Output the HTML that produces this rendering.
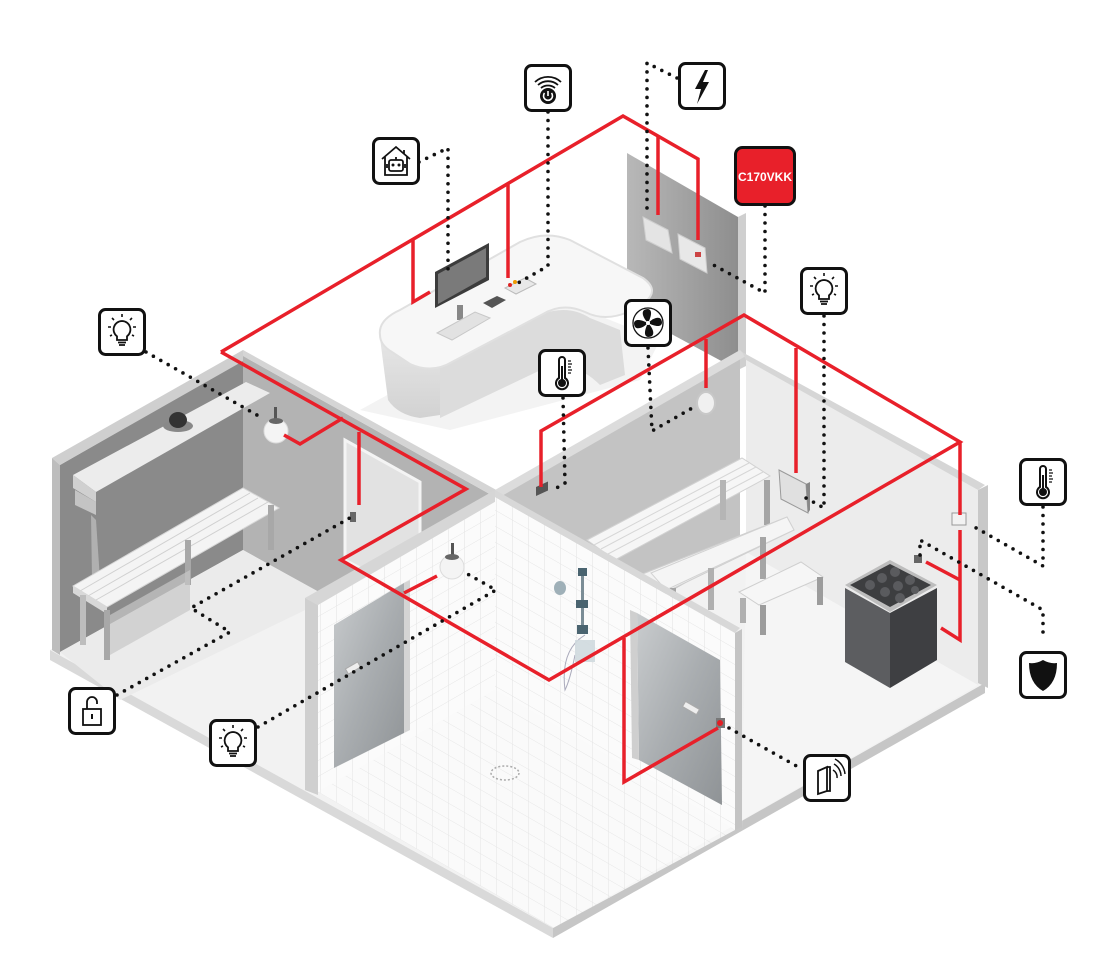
<!DOCTYPE html>
<html><head><meta charset="utf-8"><style>
html,body{margin:0;padding:0;background:#fff}
svg{display:block}
</style></head><body>
<svg width="1120" height="972" viewBox="0 0 1120 972" xmlns="http://www.w3.org/2000/svg" font-family="Liberation Sans, sans-serif">
<defs>
<linearGradient id="glass" x1="0" y1="0" x2="1" y2="1"><stop offset="0" stop-color="#c9ccce"/><stop offset="0.5" stop-color="#a9adb0"/><stop offset="1" stop-color="#8f9396"/></linearGradient>
<linearGradient id="panel" x1="0" y1="0" x2="1" y2="0"><stop offset="0" stop-color="#b8b8b8"/><stop offset="1" stop-color="#8e8e8e"/></linearGradient>
<linearGradient id="deskf" x1="0" y1="0" x2="0" y2="1"><stop offset="0" stop-color="#e6e6e6"/><stop offset="1" stop-color="#d2d2d2"/></linearGradient>
<pattern id="tiles" width="16" height="16" patternUnits="userSpaceOnUse" patternTransform="skewY(-30)"><rect width="16" height="16" fill="#fbfbfb"/><path d="M0 0H16M0 0V16" stroke="#e4e4e4" stroke-width="1"/></pattern>
<pattern id="tiles2" width="16" height="16" patternUnits="userSpaceOnUse" patternTransform="skewY(30)"><rect width="16" height="16" fill="#fbfbfb"/><path d="M0 0H16M0 0V16" stroke="#e4e4e4" stroke-width="1"/></pattern>
<g id="box"><rect x="1.5" y="1.5" width="45" height="45" rx="6" fill="#fff" stroke="#111" stroke-width="3"/></g>
<g id="bulb"><use href="#box"/><path d="M24 13a8.5 8.5 0 0 1 5 15.3v3.7h-10v-3.7A8.5 8.5 0 0 1 24 13z" fill="none" stroke="#111" stroke-width="1.8"/><path d="M20 34.5h8M21 37h6" stroke="#111" stroke-width="1.8"/><path d="M24 6v3M14 10l2 2M34 10l-2 2M10 19h3M35 19h3M12 28l2-1M36 28l-2-1" stroke="#111" stroke-width="1.6"/></g>
<g id="thermo"><use href="#box"/><path d="M21 11a3 3 0 0 1 6 0v18a6 6 0 1 1-6 0z" fill="none" stroke="#111" stroke-width="2"/><circle cx="24" cy="34" r="4" fill="#111"/><rect x="23" y="17" width="2" height="15" fill="#111"/><path d="M30 12h3M30 15h4M30 18h3M30 21h4M30 24h3" stroke="#111" stroke-width="1.2"/></g>
</defs>

<!-- floor slab -->
<polygon points="50,650 553,928 985,683 740,545 495,685 243,545" fill="#f2f2f2"/>
<polygon points="50,650 553,928 553,938 50,660" fill="#d9d9d9"/>
<polygon points="553,928 985,683 985,693 553,938" fill="#c6c6c6"/>
<!-- reception floor shadow -->
<polygon points="360,410 560,300 660,340 640,380 450,430" fill="#f3f3f3"/>

<!-- changing room back wall -->
<polygon points="60,465 243,360 243,550 60,652" fill="#8a8a8a"/>
<polygon points="52,458 243,350 252,356 60,465" fill="#cfcfcf"/>
<polygon points="52,458 60,465 60,655 52,650" fill="#bdbdbd"/>
<!-- changing room right wall -->
<polygon points="243,356 495,497 495,690 243,550" fill="#b3b3b3"/>
<polygon points="243,350 500,492 495,497 243,356" fill="#d5d5d5"/>
<!-- door -->
<polygon points="345,440 420,482 420,600 345,560" fill="#e2e2e2" stroke="#f4f4f4" stroke-width="3"/>
<rect x="350" y="512" width="6" height="10" fill="#666"/>
<!-- changing floor -->
<polygon points="60,652 243,550 330,598 120,700" fill="#ebebeb"/>
<!-- shelf & hat -->
<polygon points="73,475 246,382 270,393 96,492" fill="#ececec"/>
<polygon points="73,475 96,492 96,502 73,488" fill="#d0d0d0"/>
<polygon points="75,490 96,502 96,515 75,505" fill="#c4c4c4"/>
<ellipse cx="178" cy="426" rx="15" ry="6" fill="#888"/>
<ellipse cx="178" cy="420" rx="9" ry="8" fill="#333"/>
<path d="M91 515 L96 520 L100 580 L92 578Z" fill="#b0b0b0"/>
<!-- changing bench -->
<polygon points="73,586 243,488 279,508 107,607" fill="#f4f4f4" stroke="#d7d7d7" stroke-width="1"/>
<path d="M80 591 L250 493 M88 596 L258 498 M96 600 L268 502" stroke="#d0d0d0" stroke-width="1"/>
<polygon points="73,586 107,607 107,614 73,593" fill="#d8d8d8"/>
<rect x="80" y="595" width="6" height="50" fill="#bdbdbd"/>
<rect x="104" y="610" width="6" height="50" fill="#a8a8a8"/>
<rect x="185" y="540" width="6" height="45" fill="#a8a8a8"/>
<rect x="268" y="505" width="6" height="45" fill="#a8a8a8"/>
<polygon points="110,615 190,570 190,610 110,655" fill="#c8c8c8" opacity="0.7"/>
<!-- lamp left -->
<rect x="274" y="407" width="3" height="14" fill="#555"/>
<circle cx="276" cy="431" r="12" fill="#f4f4f4" stroke="#dcdcdc"/>
<ellipse cx="276" cy="421" rx="7" ry="3" fill="#666"/>

<!-- reception panel -->
<polygon points="627,153 738,217 738,370 627,310" fill="url(#panel)"/>
<polygon points="738,217 746,213 746,366 738,370" fill="#cfcfcf"/>
<polygon points="643,217 668,230 672,253 646,240" fill="#e4e4e4" stroke="#cfcfcf"/>
<polygon points="678,234 705,248 707,273 680,259" fill="#e8e8e8" stroke="#cfcfcf"/>
<rect x="695" y="252" width="6" height="5" fill="#c44"/>

<!-- desk -->
<path d="M380 338 L388 400 Q398 415 420 418 L440 415 L440 368 Z" fill="url(#deskf)"/>
<path d="M440 368 L545 313 Q570 305 590 318 L620 330 L625 375 L600 385 Q575 360 545 368 L440 418 Z" fill="#dcdcdc"/>
<path d="M380 335 Q378 320 400 310 L520 242 Q545 230 570 240 L643 278 Q660 290 645 302 L628 312 Q605 322 585 312 Q563 302 543 314 L452 362 Q432 374 410 364 L392 352 Q380 345 380 335 Z" fill="#f7f7f7" stroke="#e0e0e0" stroke-width="2"/>
<!-- monitor -->
<polygon points="435,272 489,243 489,280 435,308" fill="#3c3c3c"/>
<polygon points="438,274 486,248 486,277 438,304" fill="#7a7a7a"/>
<rect x="457" y="305" width="6" height="15" fill="#888"/>
<polygon points="437,333 475,312 490,318 452,340" fill="#e2e2e2" stroke="#c8c8c8"/>
<polygon points="483,303 497,296 506,300 492,308" fill="#555"/>
<polygon points="505,288 525,278 536,284 516,294" fill="#e8e8e8" stroke="#bbb"/>
<circle cx="510" cy="285" r="2" fill="#d22"/><circle cx="515" cy="282" r="2" fill="#e90"/>

<!-- sauna walls -->
<polygon points="498,495 740,358 740,552 498,690" fill="#c3c3c3"/>
<polygon points="495,490 740,350 746,356 500,497" fill="#dcdcdc"/>
<polygon points="746,360 978,490 978,685 746,552" fill="#ececec"/>
<polygon points="742,352 985,485 978,490 746,360" fill="#d6d6d6"/>
<polygon points="978,490 988,485 988,688 978,683" fill="#c8c8c8"/>
<!-- sauna floor -->
<polygon points="742,830 746,552 978,685 742,820" fill="#f5f5f5"/>
<!-- vent -->
<ellipse cx="706" cy="403" rx="9" ry="11" fill="#f0f0f0" stroke="#c8c8c8" stroke-width="2"/>
<!-- louver -->
<polygon points="779,470 806,484 808,513 781,499" fill="#e0e0e0" stroke="#9a9a9a"/>
<polygon points="806,484 810,482 810,510 808,513" fill="#888"/>
<rect x="536" y="487" width="12" height="9" fill="#555" transform="skewY(-25) translate(0,250)"/>
<!-- benches -->
<polygon points="587,540 742,458 770,476 615,560" fill="#f6f6f6" stroke="#d2d2d2"/>
<path d="M594 545 L749 463 M601 549 L756 467 M608 554 L763 472" stroke="#d6d6d6"/>
<rect x="720" y="480" width="6" height="40" fill="#b5b5b5"/>
<rect x="764" y="480" width="6" height="45" fill="#a5a5a5"/>
<polygon points="640,575 787,517 794,530 666,592" fill="#f2f2f2" stroke="#cfcfcf"/>
<polygon points="651,573 787,517 794,530 666,590" fill="#f5f5f5" stroke="#d2d2d2"/>
<rect x="670" y="588" width="6" height="40" fill="#a5a5a5"/>
<rect x="708" y="568" width="6" height="42" fill="#b0b0b0"/>
<rect x="760" y="537" width="6" height="42" fill="#a5a5a5"/>
<polygon points="739,592 801,562 823,577 759,605" fill="#f6f6f6" stroke="#cfcfcf"/>
<rect x="740" y="598" width="6" height="25" fill="#b0b0b0"/>
<rect x="760" y="605" width="6" height="30" fill="#9c9c9c"/>
<rect x="817" y="577" width="6" height="28" fill="#9c9c9c"/>
<!-- heater -->
<polygon points="845,585 890,560 937,585 890,612" fill="#bdbdbd"/>
<polygon points="850,585 890,564 931,585 890,607" fill="#3d3e40"/>
<g fill="#5a5b5e"><circle cx="870" cy="585" r="5"/><circle cx="882" cy="578" r="5"/><circle cx="895" cy="572" r="5"/><circle cx="885" cy="592" r="5"/><circle cx="898" cy="586" r="5"/><circle cx="910" cy="580" r="5"/><circle cx="900" cy="598" r="5"/><circle cx="915" cy="590" r="4"/></g>
<polygon points="845,588 890,613 890,688 845,662" fill="#5c5d60"/>
<polygon points="890,613 937,588 937,660 890,688" fill="#3e3f42"/>
<rect x="952" y="513" width="14" height="12" fill="#f2f2f2" stroke="#999"/>
<rect x="914" y="555" width="8" height="8" fill="#666"/>

<!-- shower walls -->
<polygon points="318,603 495,500 495,690 318,792" fill="url(#tiles)"/>
<polygon points="305,598 495,490 505,496 318,605" fill="#d6d6d6"/>
<polygon points="305,598 318,605 318,795 305,790" fill="#cfcfcf"/>
<polygon points="495,497 735,633 735,830 495,690" fill="url(#tiles2)"/>
<polygon points="495,490 740,628 735,633 495,497" fill="#d8d8d8"/>
<polygon points="735,633 742,629 742,827 735,830" fill="#c4c4c4"/>
<!-- shower floor -->
<polygon points="318,792 495,690 735,830 553,928" fill="url(#tiles2)" opacity="0.9"/>
<ellipse cx="505" cy="773" rx="14" ry="7" fill="none" stroke="#aaa" stroke-dasharray="2 2" stroke-width="1.5"/>
<!-- glass doors -->
<polygon points="334,625 404,583 404,733 334,768" fill="url(#glass)"/>
<polygon points="404,583 410,580 410,730 404,733" fill="#d4d4d4"/>
<rect x="346" y="665" width="14" height="6" fill="#eee" stroke="#aaa" transform="rotate(-30 353 668)"/>
<polygon points="637,613 720,660 722,805 639,760" fill="url(#glass)"/>
<polygon points="630,610 637,613 639,760 632,758" fill="#cfcfcf"/>
<rect x="683" y="705" width="16" height="6" fill="#eee" stroke="#aaa" transform="rotate(30 691 708)"/>
<rect x="716" y="718" width="9" height="10" fill="#777"/><circle cx="720" cy="723" r="3" fill="#e31e24"/>
<!-- shower fixture -->
<rect x="578" y="568" width="9" height="8" fill="#4a6470"/>
<rect x="581" y="576" width="3" height="50" fill="#7b8d96"/>
<rect x="576" y="600" width="12" height="8" fill="#4a6470"/>
<rect x="577" y="625" width="11" height="9" fill="#4a6470"/>
<ellipse cx="560" cy="588" rx="6" ry="7" fill="#9fb0b8"/>
<path d="M585 635 Q560 650 565 690 Q570 680 575 655" fill="none" stroke="#aab" stroke-width="1"/>
<rect x="575" y="640" width="20" height="22" fill="#cfd9de" opacity="0.9"/>
<!-- lamp shower -->
<rect x="451" y="543" width="3" height="14" fill="#555"/>
<circle cx="452" cy="567" r="12" fill="#f4f4f4" stroke="#dcdcdc"/>
<ellipse cx="452" cy="557" rx="7" ry="3" fill="#666"/>

<!-- RED WIRES -->
<g fill="none" stroke="#e8202a" stroke-width="3.5" stroke-linejoin="miter">
<polyline points="221,352 623,116 698,159 698,240"/>
<polyline points="658,136 658,215"/>
<polyline points="508,184 508,278"/>
<polyline points="413,240 413,302 430,292"/>
<polyline points="221,352 466,489 341,560 549,680 960,442 744,315 541,431 541,487"/>
<polyline points="706,339 706,388"/>
<polyline points="796,348 796,473"/>
<polyline points="960,442 960,515"/>
<polyline points="960,530 960,640 941,628"/>
<polyline points="960,580 926,562"/>
<polyline points="624,638 624,782 718,728"/>
<polyline points="404,593 437,576"/>
<polyline points="343,418 300,444 284,435"/>
<polyline points="359,432 359,505"/>
</g>

<!-- DOTTED -->
<g fill="none" stroke="#111" stroke-width="3.6" stroke-linecap="round" stroke-dasharray="0 8.5">
<polyline points="419,162 448,148 448,272"/>
<polyline points="548,112 548,266 518,283"/>
<polyline points="677,78 647,63 647,213"/>
<polyline points="765,206 765,293 708,262"/>
<polyline points="824,316 824,508 806,498"/>
<polyline points="648,348 652,431 694,407"/>
<polyline points="563,398 565,483 553,490"/>
<polyline points="146,352 264,419"/>
<polyline points="117,695 230,632 191,608 355,515"/>
<polyline points="258,727 496,590 464,572"/>
<polyline points="1043,507 1043,566 971,525"/>
<polyline points="1043,632 1043,610 920,540 920,558"/>
<polyline points="729,728 800,768"/>
</g>

<!-- ICONS -->
<!-- home robot -->
<g transform="translate(372,137)"><use href="#box"/>
<path d="M10 22 L24 10 L38 22 M13 20 V38 H35 V20 M32 13 V17" fill="none" stroke="#111" stroke-width="1.8"/>
<rect x="17" y="23" width="14" height="11" rx="2" fill="none" stroke="#111" stroke-width="1.8"/>
<circle cx="21" cy="28" r="1.5" fill="#111"/><circle cx="27" cy="28" r="1.5" fill="#111"/><path d="M24 20v3M15 27v4M33 27v4" stroke="#111" stroke-width="1.8"/></g>
<!-- wifi power -->
<g transform="translate(524,64)"><use href="#box"/>
<path d="M11 18 A19 19 0 0 1 37 18 M14 21 A15 15 0 0 1 34 21 M17 24 A11 11 0 0 1 31 24" fill="none" stroke="#111" stroke-width="1.8"/>
<circle cx="24" cy="32" r="8" fill="#111"/><path d="M24 27 V32 M20.5 29 A4.5 4.5 0 1 0 27.5 29" fill="none" stroke="#fff" stroke-width="1.6"/></g>
<!-- bolt -->
<g transform="translate(678,62)"><use href="#box"/><polygon points="27,8 17,27 23,27 19,42 31,20 25,20 30,8" fill="#111"/></g>
<!-- C170VKK -->
<g transform="translate(734,146)"><rect x="1.5" y="1.5" width="59" height="57" rx="7" fill="#e8202a" stroke="#111" stroke-width="3"/><text x="31" y="35" font-size="12" font-weight="bold" fill="#fff" text-anchor="middle">C170VKK</text></g>
<use href="#bulb" transform="translate(800,267)"/>
<!-- fan -->
<g transform="translate(624,299)"><use href="#box"/><circle cx="24" cy="24" r="15" fill="none" stroke="#111" stroke-width="1.3"/>
<g fill="#111"><path d="M24 24 C18 18 16 10 24 10 C29 11 27 18 24 24Z"/><path d="M24 24 C30 18 38 16 38 24 C37 29 30 27 24 24Z"/><path d="M24 24 C30 30 32 38 24 38 C19 37 21 30 24 24Z"/><path d="M24 24 C18 30 10 32 10 24 C11 19 18 21 24 24Z"/></g><circle cx="24" cy="24" r="2" fill="#fff"/></g>
<use href="#thermo" transform="translate(538,349)"/>
<use href="#bulb" transform="translate(98,308)"/>
<use href="#thermo" transform="translate(1019,458)"/>
<!-- shield -->
<g transform="translate(1019,651)"><use href="#box"/><path d="M24 9 Q31 13 38 12 Q38 32 24 40 Q10 32 10 12 Q17 13 24 9Z" fill="#111"/></g>
<!-- lock -->
<g transform="translate(68,687)"><use href="#box"/><rect x="15" y="22" width="18" height="16" fill="none" stroke="#111" stroke-width="1.8"/><path d="M19 22 V15 A5 5 0 0 1 29 15 V17" fill="none" stroke="#111" stroke-width="1.8"/><path d="M24 27v5" stroke="#111" stroke-width="2"/></g>
<use href="#bulb" transform="translate(209,719)"/>
<!-- door wireless -->
<g transform="translate(803,754)"><use href="#box"/><path d="M15 17 L24 13 V37 L15 40Z" fill="none" stroke="#111" stroke-width="1.8"/><path d="M24 13 H27 V37 H24" fill="none" stroke="#111" stroke-width="1.8"/><path d="M30 16 A8 8 0 0 1 34 24 M31 10 A14 14 0 0 1 38 22 M32 5 A19 19 0 0 1 42 20" fill="none" stroke="#111" stroke-width="1.5"/></g>
</svg>
</body></html>
